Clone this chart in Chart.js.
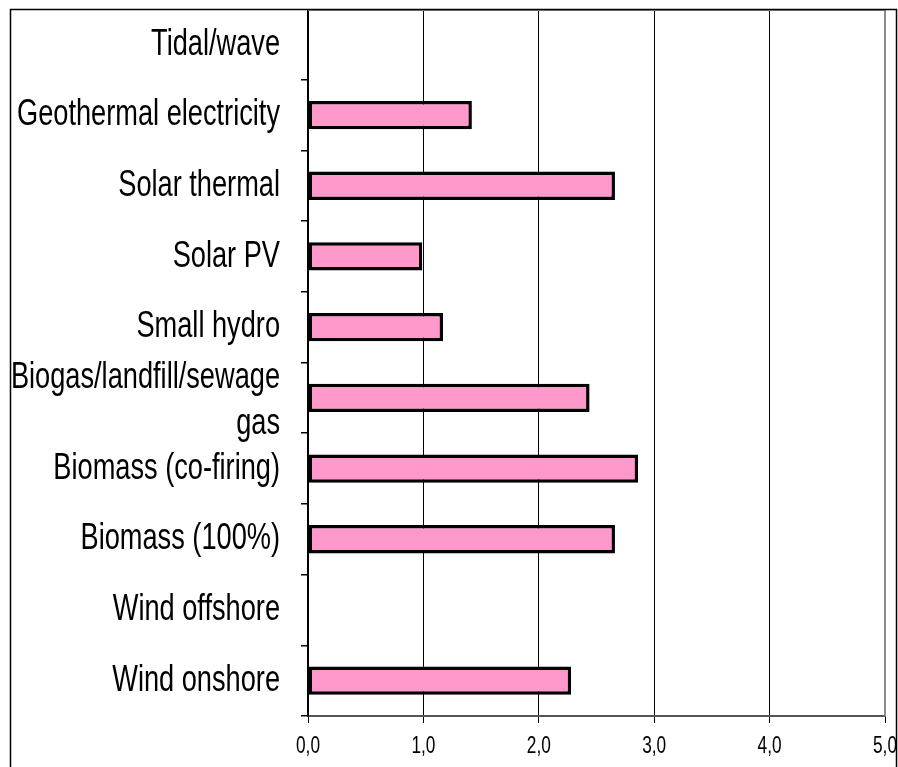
<!DOCTYPE html>
<html>
<head>
<meta charset="utf-8">
<script src="https://cdn.jsdelivr.net/npm/chart.js@4.4.1/dist/chart.umd.min.js"></script>
<style>
  html, body { margin: 0; padding: 0; background: #fff; }
  #wrap { width: 898px; height: 767px; }
</style>
</head>
<body>
<div id="wrap"><canvas id="chart" width="898" height="767"></canvas></div>
<script>
// categories, top to bottom as drawn
const categories = [
  'Tidal/wave',
  'Geothermal electricity',
  'Solar thermal',
  'Solar PV',
  'Small hydro',
  ['Biogas/landfill/sewage', 'gas'],
  'Biomass (co-firing)',
  'Biomass (100%)',
  'Wind offshore',
  'Wind onshore'
];
const values = [0, 1.42, 2.66, 0.99, 1.17, 2.44, 2.86, 2.66, 0, 2.28];
const xTicks = [0, 1, 2, 3, 4, 5];

const FONT = '"Liberation Sans", Arial, sans-serif';

// no narrow font installed, so the labels are squeezed by hand
function narrowText(ctx, txt, x, y, squeeze) {
  ctx.save();
  ctx.translate(x, y);
  ctx.scale(squeeze, 1);
  ctx.fillText(txt, 0, 0);
  ctx.restore();
}

const narrowLabels = {
  id: 'narrowLabels',
  afterDraw(chart) {
    const ctx = chart.ctx;
    const y = chart.scales.y;
    const x = chart.scales.x;
    const lineH = 46;
    ctx.save();
    ctx.fillStyle = '#000';
    ctx.font = '37px ' + FONT;
    ctx.textAlign = 'right';
    ctx.textBaseline = 'middle';
    chart.data.labels.forEach((lab, i) => {
      const lines = Array.isArray(lab) ? lab : [lab];
      const cy = y.getPixelForTick(i) + (lines.length > 1 ? 3 : 0);
      lines.forEach((txt, j) => {
        narrowText(ctx, txt, 280, cy + (j - (lines.length - 1) / 2) * lineH, 0.735);
      });
    });
    ctx.font = '24px ' + FONT;
    ctx.textAlign = 'center';
    xTicks.forEach(v => {
      narrowText(ctx, v.toFixed(1).replace('.', ','), x.getPixelForValue(v), 746, 0.72);
    });
    ctx.restore();
  }
};

// outer frame and grey plot border
const framePlugin = {
  id: 'frame',
  afterDraw(chart) {
    const ctx = chart.ctx;
    const a = chart.chartArea;
    ctx.save();
    ctx.strokeStyle = '#8c8c8c';
    ctx.lineWidth = 2;
    ctx.beginPath();
    ctx.moveTo(a.left, a.top + 1);
    ctx.lineTo(a.right, a.top + 1);
    ctx.lineTo(a.right, a.bottom);
    ctx.stroke();
    ctx.fillStyle = '#fff';
    ctx.fillRect(897, 0, 10, 767);
    ctx.fillRect(0, 0, 898, 9);
    ctx.strokeStyle = '#000';
    ctx.lineWidth = 1.5;
    ctx.strokeRect(10.5, 9.5, 886, 780);
    ctx.restore();
  }
};

const config = {
  type: 'bar',
  data: {
    labels: categories,
    datasets: [{
      data: values,
      backgroundColor: '#FF99CC',
      borderColor: '#000',
      borderWidth: 3.5,
      borderSkipped: false,
      categoryPercentage: 1,
      barPercentage: 0.4
    }]
  },
  options: {
    indexAxis: 'y',
    responsive: false,
    animation: false,
    layout: { padding: { top: 9, left: 0, right: 13, bottom: 0 } },
    plugins: {
      legend: { display: false },
      tooltip: { enabled: false }
    },
    scales: {
      x: {
        min: 0,
        max: 5,
        afterBuildTicks(scale) {
          scale.ticks = xTicks.map(v => ({ value: v }));
        },
        afterFit(scale) {
          scale.height = 51;
          scale.paddingLeft = 0;
          scale.paddingRight = 0;
        },
        grid: {
          color: '#000',
          lineWidth: 1,
          tickLength: 7,
          tickColor: '#000'
        },
        border: { color: '#555', width: 2 },
        ticks: { display: false }
      },
      y: {
        offset: true,
        afterFit(scale) { scale.width = 308; },
        grid: {
          offset: true,
          drawOnChartArea: false,
          tickLength: 7,
          tickColor: '#000',
          lineWidth: 1.5
        },
        border: { color: '#000', width: 2 },
        ticks: { display: false, autoSkip: false }
      }
    }
  },
  plugins: [narrowLabels, framePlugin]
};

new Chart(document.getElementById('chart'), config);
</script>
</body>
</html>
